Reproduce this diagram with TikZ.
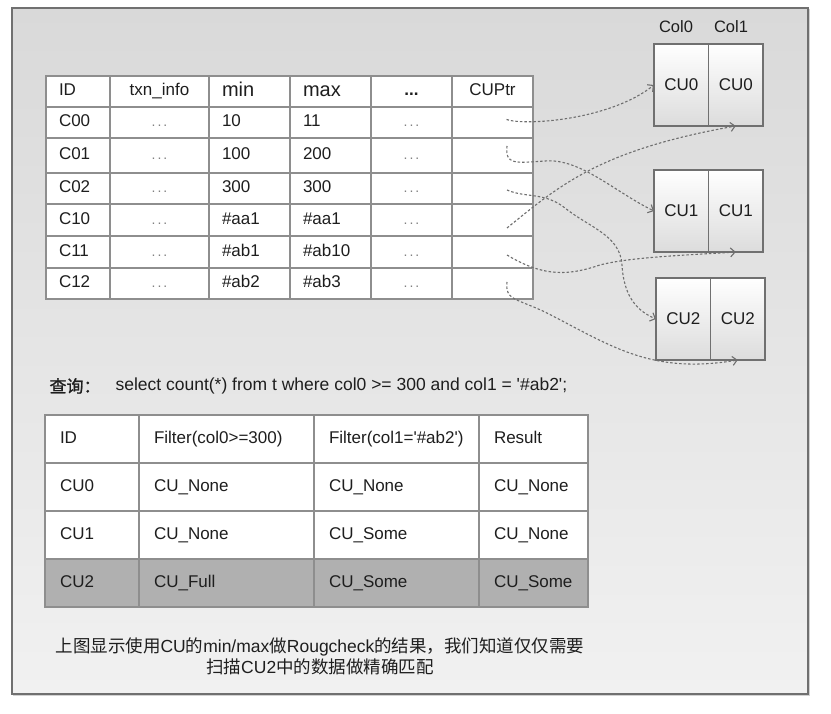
\documentclass[tikz,border=0pt]{standalone}
\usepackage{fontspec}
\setmainfont{Liberation Sans}
\newfontfamily\cjk{Noto Sans CJK SC}
\newfontfamily\cjkbold[FakeBold=1.2]{Noto Sans CJK SC}
\usetikzlibrary{positioning,calc,arrows.meta}

\definecolor{framegray}{HTML}{707070}
\definecolor{gridgray}{HTML}{8E8E8E}
\definecolor{rowgray}{HTML}{B0B0B0}
\definecolor{linkgray}{HTML}{6E6E6E}
\definecolor{inkgray}{HTML}{1E1E1E}
\definecolor{bgtop}{HTML}{D9D9D9}
\definecolor{bgbot}{HTML}{F1F1F1}
\definecolor{cubot}{HTML}{DCDCDC}

\newcommand{\fsz}[1]{\fontsize{#1}{#1}\selectfont}
\newcommand{\celldots}{{\color{gray}\fsz{14}.\hspace{2pt}.\hspace{2pt}.}}

\tikzset{
  cell/.style={draw=gridgray, line width=1.2pt, fill=white, anchor=north west,
    inner xsep=13pt, inner ysep=0pt, outer sep=0pt, text=inkgray, font=\fsz{17},
    text height=12.5pt, text depth=3.5pt},
  cubox/.style={draw=framegray, line width=1.2pt, top color=white, bottom color=cubot,
    minimum width=54.5pt, minimum height=82pt, inner sep=0pt, outer sep=0pt,
    anchor=north west, text=inkgray, font=\fsz{17}},
  link/.style={linkgray, line width=1.1pt, dash pattern=on 2.5pt off 2pt,
    -{Straight Barb[length=4.5pt,width=9pt]}},
}

\begin{document}
\begin{tikzpicture}[x=1pt, y=-1pt]
  \useasboundingbox (0,0) rectangle (831,714);
  % frame with shadow
  \fill[gray!35] (13,9) rectangle (810,696);
  \path[draw=framegray, line width=2pt, top color=bgtop, bottom color=bgbot] (12,8) rectangle (808,694);

  % chunk table: header
  \node[cell, text width=38pt, minimum height=31pt, align=left] (hid) at (46,76) {ID};
  \node[cell, text width=73pt, minimum height=31pt, align=center] (htx) at (110,76) {txn\_info};
  \node[cell, text width=55pt, minimum height=31pt, align=left, font=\fsz{20}, text height=13pt, text depth=2pt] (hmin) at (209,76) {min};
  \node[cell, text width=55pt, minimum height=31pt, align=left, font=\fsz{20}, text height=13pt, text depth=2pt] (hmax) at (290,76) {max};
  \node[cell, text width=55pt, minimum height=31pt, align=center] (hdot) at (371,76) {\textbf{...}};
  \node[cell, text width=55pt, minimum height=31pt, align=center] (hptr) at (452,76) {CUPtr};
  % chunk table: rows
  \foreach \r/\y/\h/\id/\lo/\hi in {1/107/31/C00/10/11, 2/138/35/C01/100/200,
      3/173/31/C02/300/300, 4/204/32/C10/\#aa1/\#aa1, 5/236/32/C11/\#ab1/\#ab10,
      6/268/31/C12/\#ab2/\#ab3}{
    \node[cell, text width=38pt, minimum height=\h pt, align=left] (id\r) at (46,\y) {\id};
    \node[cell, text width=73pt, minimum height=\h pt, align=center] (tx\r) at (110,\y) {\celldots};
    \node[cell, text width=55pt, minimum height=\h pt, align=left] (lo\r) at (209,\y) {\lo};
    \node[cell, text width=55pt, minimum height=\h pt, align=left] (hi\r) at (290,\y) {\hi};
    \node[cell, text width=55pt, minimum height=\h pt, align=center] (dt\r) at (371,\y) {\celldots};
    \node[cell, text width=55pt, minimum height=\h pt, align=center] (p\r) at (452,\y) {};
  }

  % compression units
  \node[text=inkgray, font=\fsz{16.5}] (col0) at (676,27) {Col0};
  \node[text=inkgray, font=\fsz{16.5}] (col1) at (731,27) {Col1};
  \node[cubox] (cu0a) at (654,44) {CU0};
  \node[cubox] (cu0b) at (cu0a.north east) {CU0};
  \node[cubox] (cu1a) at (654,170) {CU1};
  \node[cubox] (cu1b) at (cu1a.north east) {CU1};
  \node[cubox] (cu2a) at (656,278) {CU2};
  \node[cubox] (cu2b) at (cu2a.north east) {CU2};

  % CUPtr links
  \coordinate (s1) at ($(p1.center)+(14,-3)$);
  \coordinate (s2) at ($(p2.center)+(14.5,-9.5)$);
  \coordinate (s3) at ($(p3.center)+(14.5,1.5)$);
  \coordinate (s4) at ($(p4.center)+(14.5,8)$);
  \coordinate (s5) at ($(p5.center)+(14.5,3)$);
  \coordinate (s6) at ($(p6.center)+(14.5,-1.5)$);
  \draw[link] (s1) .. controls (525,126) and (610,120) .. (cu0a.west);
  \draw[link] (s2) .. controls (505,165) and (515,163) .. (545,161)
    .. controls (580,158) and (615,192) .. (cu1a.west);
  \draw[link] (s3) .. controls (525,198) and (545,192) .. (565,208)
    .. controls (590,228) and (620,235) .. (622,265)
    .. controls (624,300) and (640,312) .. (cu2a.west);
  \draw[link] (s4) .. controls (560,185) and (600,150) .. (cu0b.south);
  \draw[link] (s5) .. controls (545,278) and (570,275) .. (600,265)
    .. controls (630,257) and (690,255) .. (cu1b.south);
  \draw[link] (s6) .. controls (505,300) and (515,298) .. (545,312)
    .. controls (610,345) and (650,375) .. (cu2b.south);

  % query
  \node[anchor=west, text=inkgray, font=\cjkbold\fsz{17}] (qlabel) at (46,386) {查询：};
  \node[anchor=west, text=inkgray, font=\fsz{17.5}] (qtext) at (112,386)
    {select count(*) from t where col0 >= 300 and col1 = \textquotesingle\#ab2\textquotesingle;};

  % rough check table
  \foreach \r/\y/\fc/\a/\b/\c/\d in {0/415/white/ID/Filter(col0>=300)/Filter(col1=\textquotesingle\#ab2\textquotesingle)/Result,
      1/463/white/CU0/CU\_None/CU\_None/CU\_None, 2/511/white/CU1/CU\_None/CU\_Some/CU\_None,
      3/559/rowgray/CU2/CU\_Full/CU\_Some/CU\_Some}{
    \node[cell, fill=\fc, inner xsep=15pt, text width=64pt, minimum height=48pt, align=left] (fa\r) at (45,\y) {\a};
    \node[cell, fill=\fc, inner xsep=15pt, text width=145pt, minimum height=48pt, align=left] (fb\r) at (139,\y) {\b};
    \node[cell, fill=\fc, inner xsep=15pt, text width=135pt, minimum height=48pt, align=left] (fc\r) at (314,\y) {\c};
    \node[cell, fill=\fc, inner xsep=15pt, text width=79pt, minimum height=48pt, align=left] (fd\r) at (479,\y) {\d};
  }

  % note
  \node[align=center, text=inkgray, font=\fontsize{17.5}{21}\selectfont, inner sep=0pt] (note) at (320,656)
    {{\cjk 上图显示使用}CU{\cjk 的}min/max{\cjk 做}Rougcheck{\cjk 的结果，我们知道仅仅需要}\\
     {\cjk 扫描}CU2{\cjk 中的数据做精确匹配}};
\end{tikzpicture}
\end{document}
